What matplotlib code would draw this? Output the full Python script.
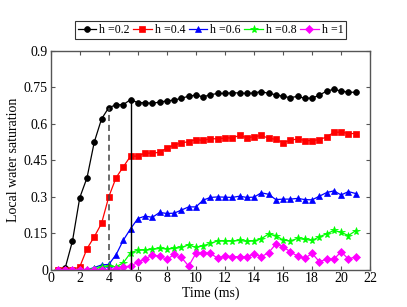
import matplotlib

matplotlib.use("Agg")
import matplotlib.pyplot as plt

plt.rcParams["font.family"] = ["Liberation Serif", "DejaVu Serif"]
plt.rcParams["mathtext.fontset"] = "stix"

# ---- data ------------------------------------------------------------------
TIME_MS = [0.5, 1.0, 1.5, 2.0, 2.5, 3.0, 3.5, 4.0, 4.5, 5.0, 5.5, 6.0, 6.5, 7.0,
           7.5, 8.0, 8.5, 9.0, 9.5, 10.0, 10.5, 11.0, 11.5, 12.0, 12.5, 13.0,
           13.5, 14.0, 14.5, 15.0, 15.5, 16.0, 16.5, 17.0, 17.5, 18.0, 18.5,
           19.0, 19.5, 20.0, 20.5, 21.0]
SAT_H02 = [0, 0.007, 0.118, 0.296, 0.378, 0.525, 0.62, 0.667, 0.678, 0.679, 0.70,
           0.687, 0.687, 0.684, 0.69, 0.694, 0.698, 0.705, 0.714, 0.718, 0.711,
           0.72, 0.725, 0.725, 0.728, 0.727, 0.725, 0.727, 0.733, 0.725, 0.72,
           0.713, 0.708, 0.713, 0.705, 0.706, 0.718, 0.735, 0.742, 0.735, 0.73, 0.73]
SAT_H04 = [0, 0, 0, 0.011, 0.086, 0.135, 0.19, 0.30, 0.378, 0.423, 0.467, 0.467,
           0.48, 0.479, 0.483, 0.50, 0.513, 0.521, 0.527, 0.535, 0.532, 0.539,
           0.538, 0.542, 0.542, 0.552, 0.543, 0.547, 0.552, 0.541, 0.536, 0.523,
           0.532, 0.538, 0.531, 0.531, 0.535, 0.546, 0.565, 0.566, 0.56, 0.56]
SAT_H06 = [0, 0, 0, 0, 0, 0.008, 0.019, 0.021, 0.061, 0.121, 0.168, 0.21, 0.22,
           0.215, 0.235, 0.231, 0.232, 0.245, 0.258, 0.258, 0.286, 0.297, 0.299,
           0.298, 0.297, 0.302, 0.297, 0.298, 0.316, 0.31, 0.288, 0.29, 0.29,
           0.293, 0.288, 0.287, 0.302, 0.317, 0.324, 0.307, 0.321, 0.313]
SAT_H08 = [0, 0, 0, 0, 0, 0.003, 0.011, 0.014, 0.011, 0.028, 0.069, 0.08, 0.08,
           0.083, 0.087, 0.085, 0.087, 0.091, 0.102, 0.091, 0.098, 0.108, 0.118,
           0.117, 0.117, 0.12, 0.116, 0.118, 0.127, 0.146, 0.14, 0.121, 0.118,
           0.128, 0.124, 0.12, 0.135, 0.147, 0.161, 0.153, 0.14, 0.16]
SAT_H10 = [0, 0, 0, 0, 0, 0, 0, 0, 0.003, 0.012, 0.014, 0.03, 0.043, 0.06, 0.055,
           0.042, 0.062, 0.05, 0.014, 0.067, 0.069, 0.067, 0.046, 0.057, 0.053,
           0.053, 0.053, 0.064, 0.053, 0.069, 0.105, 0.094, 0.073, 0.055, 0.046,
           0.067, 0.032, 0.043, 0.043, 0.073, 0.043, 0.053]
LABELS = ["h =0.2", "h =0.4", "h =0.6", "h =0.8", "h =1"]
DASHED_T = 4.0   # dashed marker line
SOLID_T = 5.5    # solid marker line

SERIES = [SAT_H02, SAT_H04, SAT_H06, SAT_H08, SAT_H10]
COLORS = ["black", "#ff0000", "#0000ff", "#00ff00", "#ff00ff"]
MARKERS = ["o", "s", "^", "*", "D"]
MSIZES = [4.2, 3.7, 4.7, 5.8, 3.7]

fig = plt.figure(figsize=(4.07, 3.07), dpi=100)
ax = fig.add_axes([0.1246, 0.122, 0.785, 0.712])

for y, c, m, ms, lab in zip(SERIES, COLORS, MARKERS, MSIZES, LABELS):
    ax.plot(TIME_MS, y, color=c, marker=m, markersize=ms, linewidth=0.9,
            markeredgewidth=0.5, label=lab)

# vertical guides up to the h=0.2 curve
i_d = TIME_MS.index(DASHED_T)
i_s = TIME_MS.index(SOLID_T)
ax.plot([DASHED_T, DASHED_T], [0, SAT_H02[i_d]], color="#444444", linestyle="--",
        linewidth=1.1, dashes=(4, 2.5))
ax.plot([SOLID_T, SOLID_T], [0, SAT_H02[i_s]], color="black", linewidth=1.0)

ax.set_xlim(0, 22)
ax.set_ylim(0, 0.9)
ax.set_xticks(range(0, 23, 2))
ax.set_yticks([0, 0.15, 0.3, 0.45, 0.6, 0.75, 0.9])
ax.set_yticklabels(["0", "0.15", "0.3", "0.45", "0.6", "0.75", "0.9"])
ax.tick_params(direction="in", top=True, right=True, length=3, width=0.8,
               labelsize=10, color="#555555", pad=2)
for s in ax.spines.values():
    s.set_color("#555555")
    s.set_linewidth(1.0)

ax.set_xlabel("Time (ms)", fontsize=10, labelpad=1)
ax.set_ylabel("Local water saturation", fontsize=10, labelpad=3)

leg = ax.legend(loc="lower center", bbox_to_anchor=(0.5, 1.055), ncol=5,
                fontsize=8.6, frameon=True, fancybox=False, handlelength=1.55,
                handletextpad=0.25, columnspacing=0.3, borderpad=0.25,
                borderaxespad=0)
leg.get_frame().set_edgecolor("black")
leg.get_frame().set_linewidth(0.8)

fig.savefig("out.png", dpi=100)
